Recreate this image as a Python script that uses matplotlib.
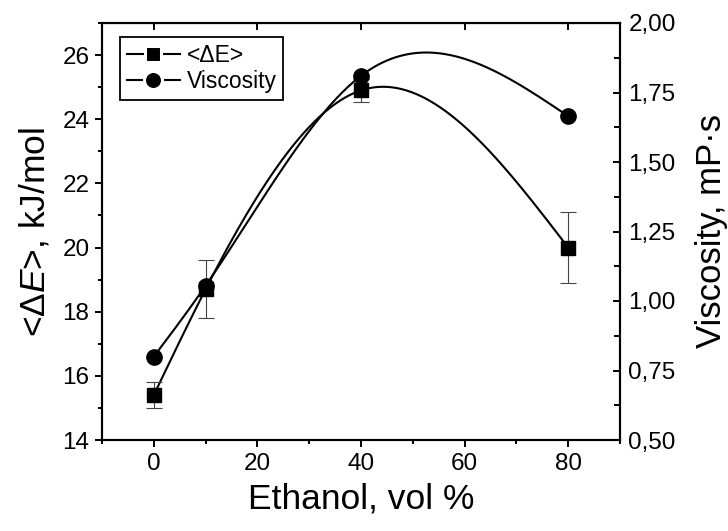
import numpy as np
import matplotlib.pyplot as plt
from matplotlib.ticker import MultipleLocator, FuncFormatter

plt.rcParams['font.family'] = ['Liberation Sans', 'DejaVu Sans']
plt.rcParams['mathtext.fontset'] = 'custom'
plt.rcParams['mathtext.rm'] = 'Liberation Sans'
plt.rcParams['mathtext.it'] = 'Liberation Sans:italic'

# ethanol content, vol %
ethanol = [0, 10, 40, 80]
# activation energy <dE>, kJ/mol, with error
delta_e = [15.4, 18.7, 24.9, 20.0]
delta_e_err = [0.4, 0.9, 0.35, 1.1]
# viscosity, mPa*s
viscosity = [0.80, 1.055, 1.81, 1.665]


def natural_spline(x, y, n=300):
    """Natural cubic spline through (x, y), sampled on n points."""
    x = np.asarray(x, float)
    y = np.asarray(y, float)
    k = len(x)
    h = np.diff(x)
    A = np.zeros((k, k))
    r = np.zeros(k)
    A[0, 0] = A[-1, -1] = 1.0
    for i in range(1, k - 1):
        A[i, i - 1] = h[i - 1]
        A[i, i] = 2 * (h[i - 1] + h[i])
        A[i, i + 1] = h[i]
        r[i] = 6 * ((y[i + 1] - y[i]) / h[i] - (y[i] - y[i - 1]) / h[i - 1])
    m = np.linalg.solve(A, r)
    xs = np.linspace(x[0], x[-1], n)
    idx = np.clip(np.searchsorted(x, xs) - 1, 0, k - 2)
    x0, x1 = x[idx], x[idx + 1]
    hh = x1 - x0
    a = (x1 - xs) / hh
    b = (xs - x0) / hh
    ys = (a * y[idx] + b * y[idx + 1]
          + ((a ** 3 - a) * m[idx] + (b ** 3 - b) * m[idx + 1]) * hh ** 2 / 6)
    return xs, ys


fig = plt.figure(figsize=(7.28, 5.31), dpi=100)
ax = fig.add_axes([102 / 728, 91 / 531, 518 / 728, 417 / 531])
ax2 = ax.twinx()

lw = 1.5
xs, ys = natural_spline(ethanol, delta_e)
ax.plot(xs, ys, color='black', lw=lw)
ax.errorbar(ethanol, delta_e, yerr=delta_e_err, fmt='none', ecolor='#444444',
            elinewidth=0.8, capsize=5.5, capthick=0.8)
ax.plot(ethanol, delta_e, 's', color='black', ms=10.5)

xs2, ys2 = natural_spline(ethanol, viscosity)
ax2.plot(xs2, ys2, color='black', lw=lw)
ax2.plot(ethanol, viscosity, 'o', color='black', ms=11)

ax.set_xlim(-10, 90)
ax.set_ylim(14, 27)
ax2.set_ylim(0.5, 2.0)

ax.xaxis.set_major_locator(MultipleLocator(20))
ax.xaxis.set_minor_locator(MultipleLocator(10))
ax.yaxis.set_major_locator(MultipleLocator(2))
ax.yaxis.set_minor_locator(MultipleLocator(1))
ax2.yaxis.set_major_locator(MultipleLocator(0.25))
ax2.yaxis.set_minor_locator(MultipleLocator(0.125))
ax2.yaxis.set_major_formatter(FuncFormatter(lambda v, p: f'{v:.2f}'.replace('.', ',')))

for a in (ax, ax2):
    for s in a.spines.values():
        s.set_linewidth(1.5)

# bottom/left ticks point out, top/right ticks point in
ax.tick_params(axis='both', which='major', direction='out', length=5, width=1.4,
               labelsize=17.5, pad=4)
ax.tick_params(axis='both', which='minor', direction='out', length=3.2, width=1.4)
ax.tick_params(axis='y', which='both', right=False)
ax.secondary_xaxis('top').tick_params(which='both', direction='in', length=5,
                                      width=1.4, labeltop=False)
ax2.tick_params(axis='y', which='major', direction='in', length=5, width=1.4,
                labelsize=17.5, pad=6)
ax2.tick_params(axis='y', which='minor', direction='in', length=4.5, width=1.4)

ax.set_xlabel('Ethanol, vol %', fontsize=25.5, labelpad=6)
ax.set_ylabel(r'<$\Delta E$>, kJ/mol', fontsize=25.5, labelpad=8)
ax2.set_ylabel('Viscosity, mP·s', fontsize=25, labelpad=14)

# legend entries drawn as line-marker-line with a small gap round the marker
h1, = ax.plot([], [], '-s', color='black', ms=11, lw=lw,
              markeredgecolor='white', markeredgewidth=2.2)
h2, = ax.plot([], [], '-o', color='black', ms=13, lw=lw,
              markeredgecolor='white', markeredgewidth=2.2)
leg = ax.legend([h1, h2], ['<ΔE>', 'Viscosity'], loc='upper left',
                bbox_to_anchor=(18 / 518, 1 - 14 / 417), fontsize=16.5,
                frameon=True, fancybox=False, borderpad=0.3, handlelength=2.3,
                handletextpad=0.3, labelspacing=0.15, borderaxespad=0,
                framealpha=1)
leg.get_frame().set_edgecolor('black')
leg.get_frame().set_linewidth(1.3)

fig.savefig('out.png', dpi=100)
